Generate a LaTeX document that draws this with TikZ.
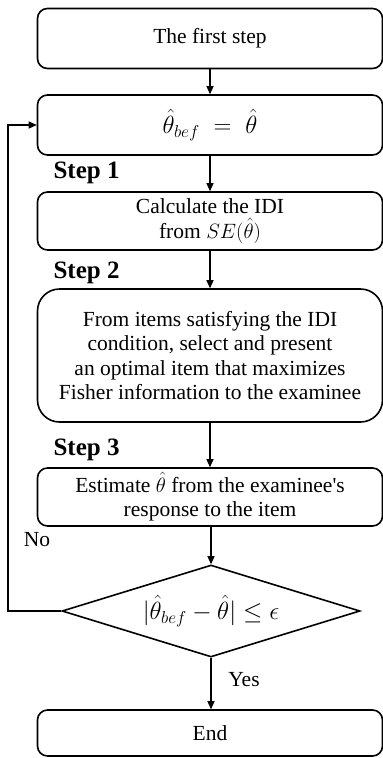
\documentclass[tikz,border=0pt]{standalone}
\usepackage{fontspec}
\setmainfont{Liberation Serif}
\usetikzlibrary{arrows.meta,shapes.geometric}
\begin{document}
\begin{tikzpicture}[x=1pt,y=-1pt,
  every node/.style={font=\fontsize{21.5}{24.5}\selectfont},
  box/.style={draw,line width=1.6pt,rounded corners=10pt,minimum width=345pt,inner sep=0pt,align=center},
  bigbox/.style={box,rounded corners=22pt},
  cond/.style={draw,line width=1.6pt,shape=diamond,minimum width=298pt,minimum height=92pt,inner sep=0pt,aspect=3.24},
  mathtext/.style={font=\fontsize{24}{26}\selectfont},
  steplabel/.style={font=\fontsize{25}{28}\selectfont\bfseries,anchor=west},
  flow/.style={line width=1.3pt,-{Triangle[length=8pt,width=7pt]}}
]
\useasboundingbox (0,0) rectangle (383,758);

\node[box,minimum height=60pt] (first) at (210,38.5) {The first step};
\node[box,mathtext,minimum height=60pt] (bef) at (210,125) {$\hat{\theta}_{bef} \;=\; \hat{\theta}$};
\node[box,minimum height=58pt] (idi) at (210,221) {Calculate the IDI\\from $SE\bigl(\hat{\theta}\bigr)$};
\node[bigbox,minimum height=133pt] (select) at (210,355.5) {From items satisfying the IDI\\condition, select and present\\an optimal item that maximizes\\Fisher information to the examinee};
\node[box,minimum height=58pt] (est) at (210,497) {Estimate $\hat{\theta}$ from the examinee\textquotesingle s\\response to the item};
\node[cond,mathtext] (check) at (211,611) {$|\hat{\theta}_{bef} - \hat{\theta}| \leq \epsilon$};
\node[box,minimum height=46pt] (end) at (210,733) {End};

\node[steplabel] (s1) at (50,173) {Step 1};
\node[steplabel] (s2) at (50,273) {Step 2};
\node[steplabel] (s3) at (50,450) {Step 3};
\node (no) at (37,540) {No};
\node (yes) at (244,680) {Yes};

\coordinate (loop) at (8,611);

\draw[flow] (first) -- (bef);
\draw[flow] (bef) -- (idi);
\draw[flow] (idi) -- (select);
\draw[flow] (select) -- (est);
\draw[flow] (est.south -| check.north) -- (check.north);
\draw[flow] (check.south) -- (check.south |- end.north);
\draw[flow] (check.west) -- (loop) |- (bef.west);
\end{tikzpicture}
\end{document}
